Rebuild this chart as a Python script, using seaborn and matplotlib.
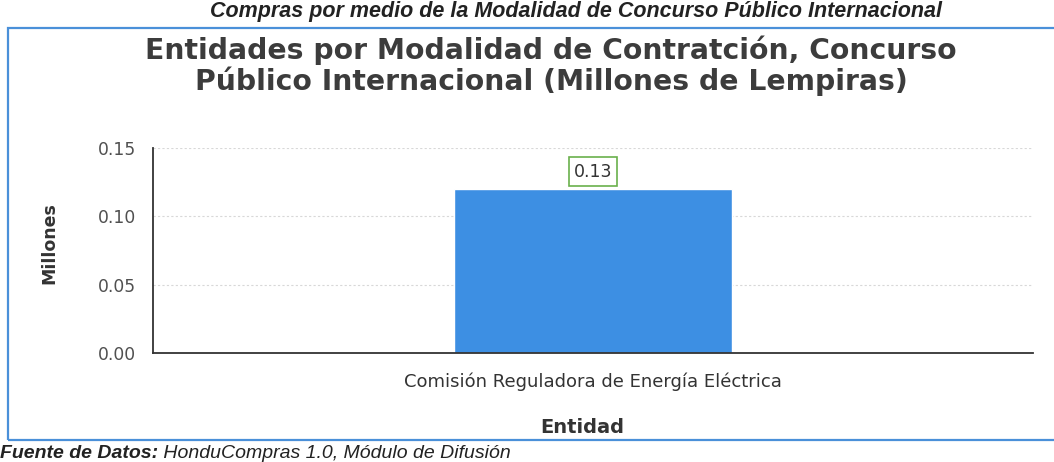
import matplotlib
matplotlib.use("Agg")
import matplotlib.pyplot as plt
import seaborn as sns
import pandas as pd
from matplotlib.patches import Rectangle

# ---- data ----
categories = ["Comisión Reguladora de Energía Eléctrica"]
values = [0.12]
value_labels = ["0.13"]
yticks = [0.00, 0.05, 0.10, 0.15]
ytick_labels = ["0.00", "0.05", "0.10", "0.15"]

title = "Entidades por Modalidad de Contratción, Concurso\nPúblico Internacional (Millones de Lempiras)"
header_text = "Compras por medio de la Modalidad de Concurso Público Internacional"
source_bold = "Fuente de Datos:"
source_text = " HonduCompras 1.0, Módulo de Difusión"

sns.set_theme(style="white")
plt.rcParams["font.family"] = ["DejaVu Sans"]

df = pd.DataFrame({"Entidad": categories, "Millones": values})

fig = plt.figure(figsize=(10.54, 4.62), dpi=100)
ax = fig.add_axes([153 / 1054, 1 - 353 / 462, 880 / 1054, (353 - 148) / 462])

sns.barplot(data=df, x="Entidad", y="Millones", color="#3d8fe3",
            saturation=1, width=0.317, ax=ax)

ax.set_ylim(0, 0.15)
ax.set_xlim(-0.5, 0.5)
ax.set_yticks(yticks)
ax.set_yticklabels(ytick_labels)
ax.grid(axis="y", color="#d8d8d8", linestyle=(0, (2, 2)), linewidth=0.8)
ax.set_axisbelow(True)
for s in ["top", "right"]:
    ax.spines[s].set_visible(False)
for s in ["left", "bottom"]:
    ax.spines[s].set_color("#333333")
    ax.spines[s].set_linewidth(1.3)
ax.tick_params(axis="y", labelsize=12.3, labelcolor="#505050", length=0, pad=12)
ax.tick_params(axis="x", labelsize=13, labelcolor="#333333", length=0, pad=14)

ax.set_ylabel("Millones", fontsize=12.5, fontweight="bold", color="#333333")
ax.yaxis.set_label_coords(-0.108, 0.537)
ax.set_xlabel("Entidad", fontsize=14, fontweight="bold", color="#333333")
ax.xaxis.set_label_coords(0.488, -0.318)

for p, lab in zip(ax.patches, value_labels):
    ax.annotate(lab, (p.get_x() + p.get_width() / 2, p.get_height()),
                xytext=(0, 12.5), textcoords="offset points", ha="center", va="center",
                fontsize=12.5, color="#333333",
                bbox=dict(boxstyle="square,pad=0.3", fc="white", ec="#6ab04c", lw=1.2))

fig.text(0.523, 0.857, title, ha="center", va="center", fontsize=20.3,
         fontweight="bold", color="#3c3c3c", linespacing=1.05)

# page elements around chart
fig.patches.append(Rectangle((8 / 1054, 1 - 440 / 462), 1.1, (440 - 28) / 462,
                             transform=fig.transFigure, fill=False,
                             ec="#4a90d9", lw=1.6, zorder=0))
fig.text(210 / 1054, 1 - 12 / 462, header_text, ha="left", va="center",
         fontsize=15.5, fontweight="bold", fontstyle="italic", color="#222222",
         family="Liberation Sans")
t1 = fig.text(0.0, 1 - 454 / 462, source_bold, ha="left", va="center",
              fontsize=14, fontweight="bold", fontstyle="italic", color="#222222",
              family="Liberation Sans")
fig.canvas.draw()
bb = t1.get_window_extent()
fig.text(bb.x1 / fig.bbox.width, 1 - 454 / 462, source_text, ha="left", va="center",
         fontsize=14, fontstyle="italic", color="#222222", family="Liberation Sans")

fig.savefig("out.png", dpi=100)
